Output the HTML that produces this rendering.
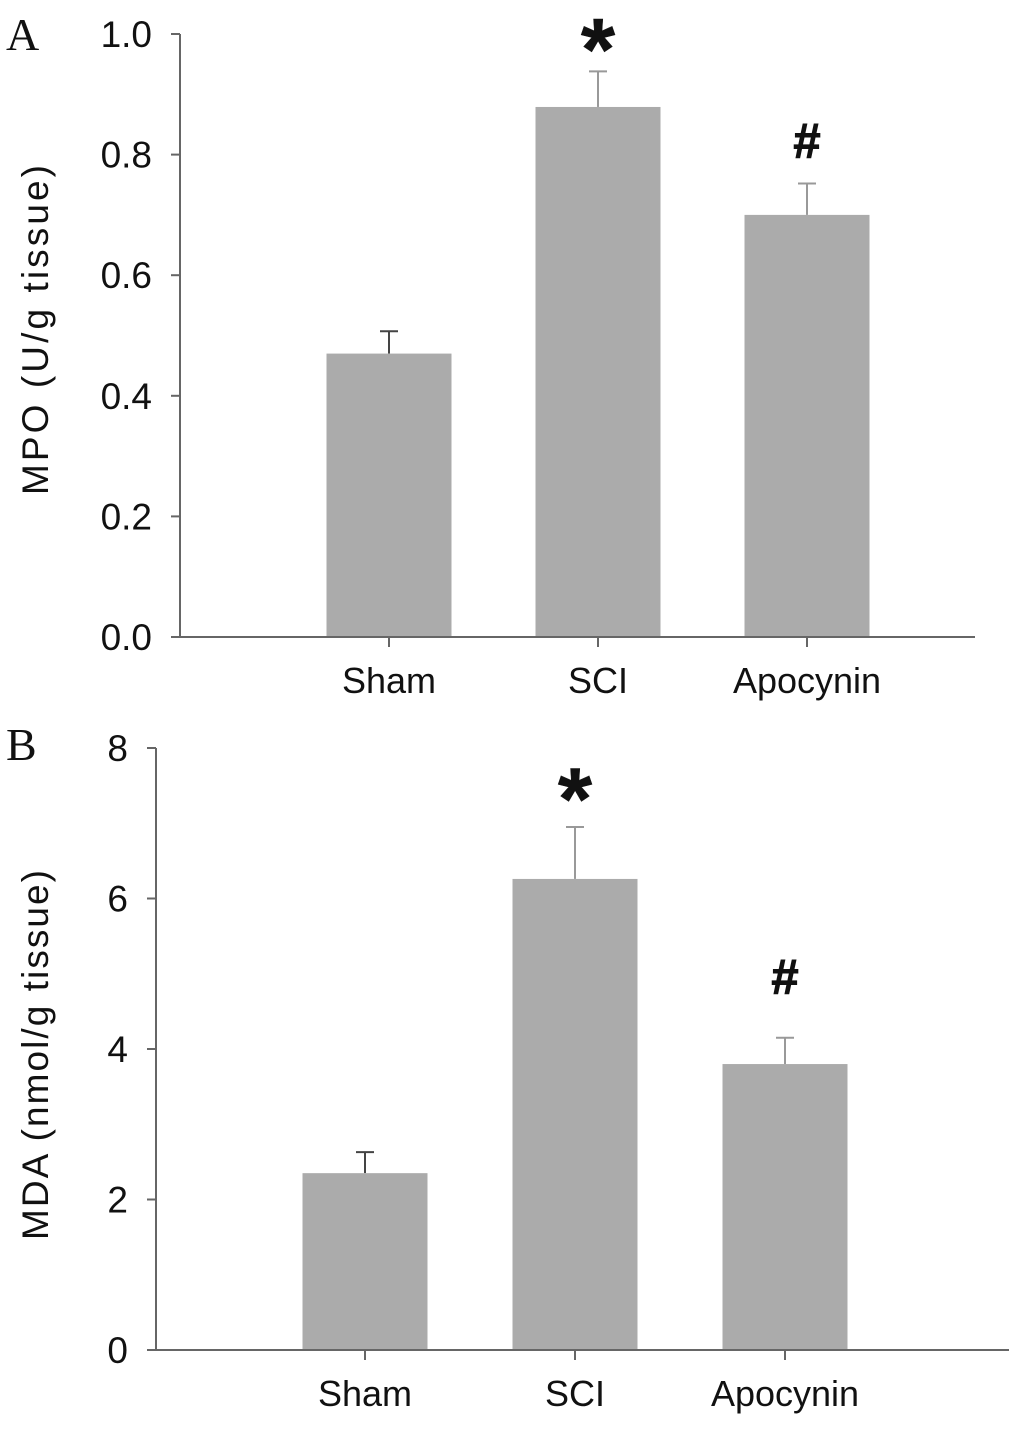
<!DOCTYPE html>
<html><head><meta charset="utf-8"><style>
html,body{margin:0;padding:0;background:#fff;}
svg text{font-family:"Liberation Sans",sans-serif;fill:#111;}
</style></head><body>
<svg id="fig" width="1029" height="1425" xmlns="http://www.w3.org/2000/svg">
<text x="6" y="50" style="font-family:'Liberation Serif',serif" font-size="46">A</text>
<text x="6" y="760" style="font-family:'Liberation Serif',serif" font-size="46">B</text>
<g id="pa"></g>
<g id="pb"></g>
</svg>
<script>
const categories = ["Sham","SCI","Apocynin"];
const mpoValues = [0.47, 0.879, 0.70];
const mpoErrors = [0.037, 0.059, 0.052];
const mpoTicks = ["0.0","0.2","0.4","0.6","0.8","1.0"];
const mpoMarks = ["", "*", "#"];
const mdaValues = [2.35, 6.26, 3.80];
const mdaErrors = [0.28, 0.69, 0.35];
const mdaTicks = ["0","2","4","6","8"];
const mdaMarks = ["", "*", "#"];

const NS="http://www.w3.org/2000/svg";
function mk(parent,tag,attrs){const e=document.createElementNS(NS,tag);for(const k in attrs)e.setAttribute(k,attrs[k]);parent.appendChild(e);return e;}

function draw(g,cfg){
  const y=v=>cfg.y0-(v-cfg.min)/(cfg.max-cfg.min)*(cfg.y0-cfg.y1);
  const x=i=>cfg.c0+i*cfg.step;
  cfg.vals.forEach((v,i)=>{
    const e=cfg.errs[i];
    const col=i==0?'#444':'#999';
    const ln=mk(g,'line',{x1:x(i),x2:x(i),y1:y(v),y2:y(v+e),stroke:col,'stroke-width':2});
    
    
    const cap=mk(g,'line',{x1:x(i)-9,x2:x(i)+9,y1:y(v+e),y2:y(v+e),stroke:col,'stroke-width':2});
    
    
    const r=mk(g,'rect',{x:x(i)-cfg.bw/2,y:y(v),width:cfg.bw,height:y(cfg.min)-y(v),fill:'#ababab'});
    
    
    if(cfg.marks[i]){
      const star=cfg.marks[i]=='*';
      const bottom=y(v+e)-(star?cfg.starGap:cfg.hashGap);
      const t=mk(g,'text',{x:x(i),y:star?bottom+30:bottom,'text-anchor':'middle','font-size':star?88:49,'font-weight':'bold',stroke:'#111','stroke-width':star?0.5:1});
      t.textContent=cfg.marks[i];
      
      
    }
    const tk=mk(g,'line',{x1:x(i),x2:x(i),y1:cfg.y0,y2:cfg.y0+10,stroke:'#666','stroke-width':2});
    
    
    const lb=mk(g,'text',{x:x(i),y:cfg.y0+56,'text-anchor':'middle','font-size':36});
    lb.textContent=categories[i];
    
    
  });
  const ya=mk(g,'line',{x1:cfg.ax,x2:cfg.ax,y1:cfg.y1,y2:cfg.y0,stroke:'#666','stroke-width':2});
  
  
  const xa=mk(g,'line',{x1:cfg.ax-9,x2:cfg.xend,y1:cfg.y0,y2:cfg.y0,stroke:'#666','stroke-width':2});
  
  
  cfg.ticks.forEach((t,i)=>{
    const v=cfg.min+i*(cfg.max-cfg.min)/(cfg.ticks.length-1);
    const l=mk(g,'line',{x1:cfg.ax-9,x2:cfg.ax,y1:y(v),y2:y(v),stroke:'#666','stroke-width':2});
    
    
    const tx=mk(g,'text',{x:cfg.ax-28,y:y(v)+13,'text-anchor':'end','font-size':37});
    tx.textContent=t;
    
    
  });
  const tt=mk(g,'text',{x:0,y:0,'text-anchor':'middle','font-size':37,textLength:cfg.tlen,lengthAdjust:'spacing',transform:`translate(${cfg.tx},${cfg.tc}) rotate(-90)`});
  tt.textContent=cfg.title;
  
  
}
draw(document.getElementById('pa'),{vals:mpoValues,errs:mpoErrors,ticks:mpoTicks,marks:mpoMarks,min:0,max:1,y0:637,y1:34,ax:180,xend:975,c0:389,step:209,bw:125,tx:48,tc:330,tlen:330,starGap:22,hashGap:26,title:"MPO (U/g tissue)"});
draw(document.getElementById('pb'),{vals:mdaValues,errs:mdaErrors,ticks:mdaTicks,marks:mdaMarks,min:0,max:8,y0:1350,y1:748,ax:156,xend:1009,c0:365,step:210,bw:125,tx:48,tc:1055,tlen:370,starGap:28,hashGap:44,title:"MDA (nmol/g tissue)"});
</script>
</body></html>
